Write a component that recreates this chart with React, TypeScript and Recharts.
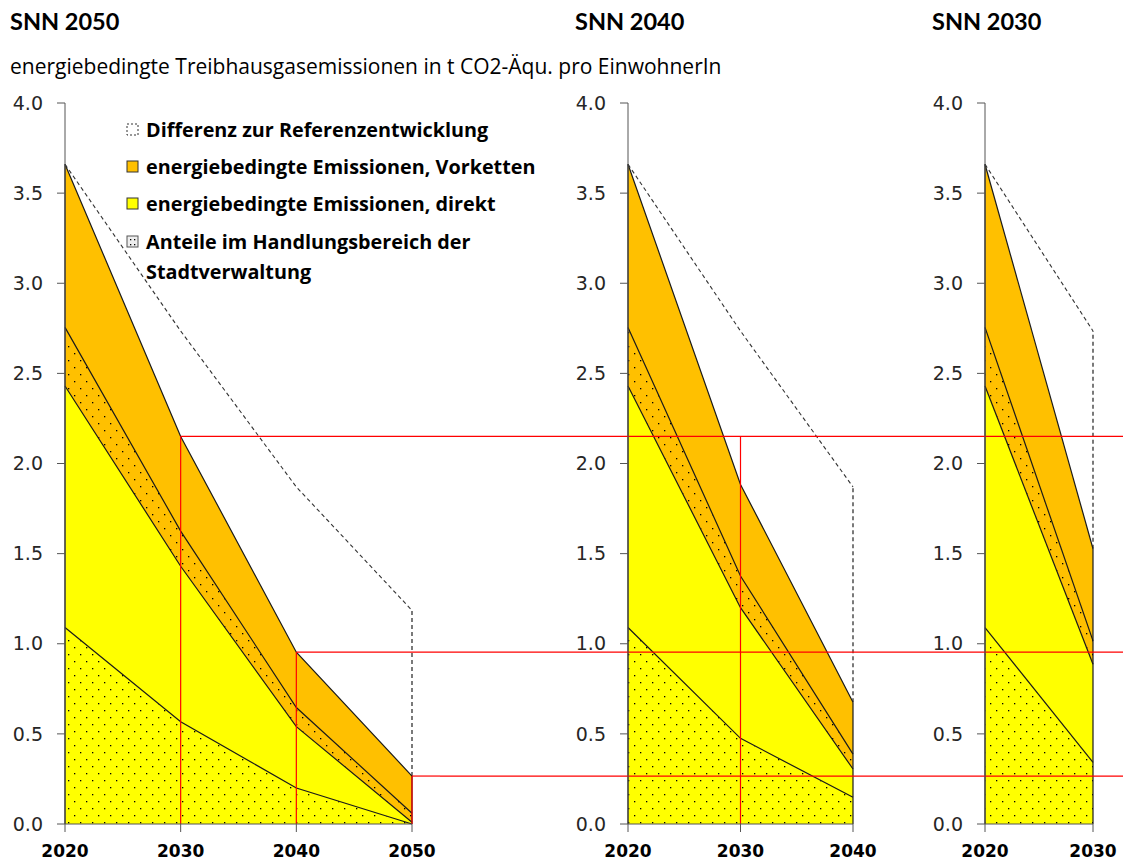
import React from 'react';
import { ComposedChart, Area, Line, XAxis, YAxis, ReferenceLine } from 'recharts';

// ---------- data (cumulative tops of each layer, t CO2-Äqu. per EinwohnerIn) ----------
const YEARS_SNN2050 = [2020, 2030, 2040, 2050];
const YEARS_SNN2040 = [2020, 2030, 2040];
const YEARS_SNN2030 = [2020, 2030];

const SNN2050_ANTEIL_DIREKT = [1.09, 0.567, 0.2, 0.0];
const SNN2050_DIREKT = [2.43, 1.43, 0.54, 0.01];
const SNN2050_ANTEIL_VORKETTEN = [2.755, 1.625, 0.646, 0.06];
const SNN2050_VORKETTEN = [3.66, 2.15, 0.953, 0.266];
const SNN2050_REFERENZ = [3.66, 2.735, 1.87, 1.185];

const SNN2040_ANTEIL_DIREKT = [1.09, 0.475, 0.148];
const SNN2040_DIREKT = [2.43, 1.2, 0.305];
const SNN2040_ANTEIL_VORKETTEN = [2.755, 1.376, 0.388];
const SNN2040_VORKETTEN = [3.66, 1.884, 0.675];
const SNN2040_REFERENZ = [3.66, 2.735, 1.87];

const SNN2030_ANTEIL_DIREKT = [1.09, 0.342];
const SNN2030_DIREKT = [2.43, 0.886];
const SNN2030_ANTEIL_VORKETTEN = [2.755, 1.016];
const SNN2030_VORKETTEN = [3.66, 1.527];
const SNN2030_REFERENZ = [3.66, 2.735];

const Y_TICKS = [0, 0.5, 1, 1.5, 2, 2.5, 3, 3.5, 4];
const TITLES = ['SNN 2050', 'SNN 2040', 'SNN 2030'];
const SUBTITLE = 'energiebedingte Treibhausgasemissionen in t CO2-Äqu. pro EinwohnerIn';
const LEGEND_LABELS = [
  ['Differenz zur Referenzentwicklung'],
  ['energiebedingte Emissionen, Vorketten'],
  ['energiebedingte Emissionen, direkt'],
  ['Anteile im Handlungsbereich der', 'Stadtverwaltung'],
];
// SNN 2050 milestones marked in red
const MARKER_YEARS = [2030, 2040, 2050];

// ---------- styles ----------
const ORANGE = '#FFC000';
const YELLOW = '#FFFF00';
const RED = '#FF0000';
const EDGE = '#1a1a1a';
const AXIS = '#555555';
const H = 861;
const TITLE_FONT = 'Lato, "Open Sans", sans-serif';
const TEXT_FONT = '"Open Sans", Lato, sans-serif';
const TICK_FONT = '"DejaVu Sans", Verdana, sans-serif';

type Row = { year: number; anteilDirekt: number; direkt: number; anteilVorketten: number; vorketten: number; referenz: number };

const buildRows = (years: number[], ad: number[], d: number[], av: number[], v: number[], r: number[]): Row[] =>
  years.map((year, i) => ({ year, anteilDirekt: ad[i], direkt: d[i], anteilVorketten: av[i], vorketten: v[i], referenz: r[i] }));

const ROWS_2050 = buildRows(YEARS_SNN2050, SNN2050_ANTEIL_DIREKT, SNN2050_DIREKT, SNN2050_ANTEIL_VORKETTEN, SNN2050_VORKETTEN, SNN2050_REFERENZ);
const ROWS_2040 = buildRows(YEARS_SNN2040, SNN2040_ANTEIL_DIREKT, SNN2040_DIREKT, SNN2040_ANTEIL_VORKETTEN, SNN2040_VORKETTEN, SNN2040_REFERENZ);
const ROWS_2030 = buildRows(YEARS_SNN2030, SNN2030_ANTEIL_DIREKT, SNN2030_DIREKT, SNN2030_ANTEIL_VORKETTEN, SNN2030_VORKETTEN, SNN2030_REFERENZ);

const MARKERS = MARKER_YEARS.map((year) => ({ year, value: SNN2050_VORKETTEN[YEARS_SNN2050.indexOf(year)] }));

function DotPattern({ id, bg }: { id: string; bg: string }) {
  return (
    <pattern id={id} width={12} height={14} patternUnits="userSpaceOnUse">
      <rect width={12} height={14} fill={bg} />
      <rect x={2} y={3} width={1.3} height={1.3} fill="#000" />
      <rect x={8} y={10} width={1.3} height={1.3} fill="#000" />
    </pattern>
  );
}

type PanelProps = {
  id: string;
  rows: Row[];
  years: number[];
  left: number;
  width: number;
  yAxisWidth: number;
  marginRight: number;
  fromPointMarkers: boolean;
  redVerticalYears: number[];
};

function Panel({ id, rows, years, left, width, yAxisWidth, marginRight, fromPointMarkers, redVerticalYears }: PanelProps) {
  const first = rows[0];
  const last = rows[rows.length - 1];
  const x0 = years[0];
  const x1 = years[years.length - 1];
  const areaCommon = { type: 'linear' as const, fillOpacity: 1, stroke: EDGE, strokeWidth: 1.2, dot: false, activeDot: false, isAnimationActive: false };
  return (
    <div style={{ position: 'absolute', left, top: 0, width, height: H }}>
      <ComposedChart width={width} height={H} data={rows} margin={{ top: 103, right: marginRight, bottom: 7, left: 0 }}>
        <defs>
          <DotPattern id={`dotsOrange-${id}`} bg={ORANGE} />
          <DotPattern id={`dotsYellow-${id}`} bg={YELLOW} />
        </defs>
        <XAxis
          dataKey="year"
          type="number"
          domain={[x0, x1]}
          ticks={years}
          interval={0}
          height={30}
          tickSize={8}
          tickMargin={13}
          stroke={AXIS}
          tick={{ fill: '#000', fontFamily: TICK_FONT, fontWeight: 'bold', fontSize: 17 }}
        />
        <YAxis
          type="number"
          domain={[0, 4]}
          ticks={Y_TICKS}
          interval={0}
          width={yAxisWidth}
          tickSize={8}
          tickMargin={14}
          stroke={AXIS}
          tickFormatter={(v: number) => v.toFixed(1)}
          tick={{ fill: '#262626', fontFamily: TICK_FONT, fontSize: 19 }}
        />
        <Area {...areaCommon} dataKey="vorketten" fill={ORANGE} />
        <Area {...areaCommon} dataKey="anteilVorketten" fill={`url(#dotsOrange-${id})`} />
        <Area {...areaCommon} dataKey="direkt" fill={YELLOW} />
        <Area {...areaCommon} dataKey="anteilDirekt" fill={`url(#dotsYellow-${id})`} />
        <Line type="linear" dataKey="referenz" stroke="#333333" strokeWidth={1.1} strokeDasharray="4 3" dot={false} activeDot={false} isAnimationActive={false} />
        {/* polygon edges */}
        <ReferenceLine segment={[{ x: x0, y: 0 }, { x: x0, y: first.vorketten }]} stroke={EDGE} strokeWidth={1.2} />
        <ReferenceLine segment={[{ x: x1, y: 0 }, { x: x1, y: last.vorketten }]} stroke={EDGE} strokeWidth={1.2} />
        <ReferenceLine segment={[{ x: x1, y: last.vorketten }, { x: x1, y: last.referenz }]} stroke="#222" strokeWidth={1.2} strokeDasharray="4 3" />
        {/* red milestone markers */}
        {redVerticalYears.map((yr) => {
          const m = MARKERS.find((k) => k.year === yr)!;
          return <ReferenceLine key={`v${yr}`} segment={[{ x: yr, y: 0 }, { x: yr, y: m.value }]} stroke={RED} strokeWidth={1.2} />;
        })}
        {MARKERS.map((m) =>
          fromPointMarkers ? (
            <ReferenceLine
              key={`h${m.year}`}
              segment={[{ x: m.year, y: m.value }, { x: x1, y: m.value }]}
              shape={(p: any) => <line x1={p.x1} x2={width} y1={p.y1} y2={p.y1} stroke={RED} strokeWidth={1.2} />}
            />
          ) : (
            <ReferenceLine
              key={`h${m.year}`}
              y={m.value}
              shape={(p: any) => <line x1={0} x2={width} y1={p.y1} y2={p.y1} stroke={RED} strokeWidth={1.2} />}
            />
          )
        )}
      </ComposedChart>
    </div>
  );
}

function Overlay() {
  const rowCenters = [130, 167, 204, 242];
  const swX = 127;
  const textX = 146;
  return (
    <svg width={1123} height={H} style={{ position: 'absolute', left: 0, top: 0, pointerEvents: 'none' }}>
      <text x={10} y={30} fontFamily={TITLE_FONT} fontWeight="bold" fontSize={23.5} fill="#000">{TITLES[0]}</text>
      <text x={575} y={30} fontFamily={TITLE_FONT} fontWeight="bold" fontSize={23.5} fill="#000">{TITLES[1]}</text>
      <text x={932} y={30} fontFamily={TITLE_FONT} fontWeight="bold" fontSize={23.5} fill="#000">{TITLES[2]}</text>
      <text x={10} y={74} fontFamily={TEXT_FONT} fontSize={21} fill="#000">{SUBTITLE}</text>
      {LEGEND_LABELS.map((lines, i) => {
        const cy = rowCenters[i];
        let sw;
        if (i === 0) sw = <rect x={swX} y={cy - 6} width={11} height={11} fill="#fff" stroke="#333" strokeDasharray="2 2" />;
        else if (i === 1) sw = <rect x={swX} y={cy - 6} width={11} height={11} fill={ORANGE} stroke="#333" />;
        else if (i === 2) sw = <rect x={swX} y={cy - 6} width={11} height={11} fill={YELLOW} stroke="#333" />;
        else sw = <rect x={swX} y={cy - 6} width={11} height={11} fill="#eee" stroke="#555" />;
        return (
          <g key={i}>
            {sw}
            {i === 3 && (
              <>
                <rect x={swX + 3} y={cy - 3} width={1.3} height={1.3} fill="#000" />
                <rect x={swX + 7} y={cy - 3} width={1.3} height={1.3} fill="#000" />
                <rect x={swX + 3} y={cy + 2} width={1.3} height={1.3} fill="#000" />
                <rect x={swX + 7} y={cy + 2} width={1.3} height={1.3} fill="#000" />
              </>
            )}
            {lines.map((t, j) => (
              <text key={j} x={textX} y={cy + 7 + j * 30} fontFamily={TEXT_FONT} fontWeight="bold" fontSize={19.8} fill="#000">{t}</text>
            ))}
          </g>
        );
      })}
    </svg>
  );
}

export default function App() {
  return (
    <div style={{ position: 'absolute', left: 0, top: 0, width: 1123, height: H, background: '#fff', overflow: 'hidden' }}>
      <Panel id="p1" rows={ROWS_2050} years={YEARS_SNN2050} left={0} width={440} yAxisWidth={65} marginRight={28} fromPointMarkers={true} redVerticalYears={[2030, 2040, 2050]} />
      <Panel id="p2" rows={ROWS_2040} years={YEARS_SNN2040} left={440} width={440} yAxisWidth={188} marginRight={27} fromPointMarkers={false} redVerticalYears={[2030]} />
      <Panel id="p3" rows={ROWS_2030} years={YEARS_SNN2030} left={880} width={243} yAxisWidth={105} marginRight={30} fromPointMarkers={false} redVerticalYears={[]} />
      <Overlay />
    </div>
  );
}
